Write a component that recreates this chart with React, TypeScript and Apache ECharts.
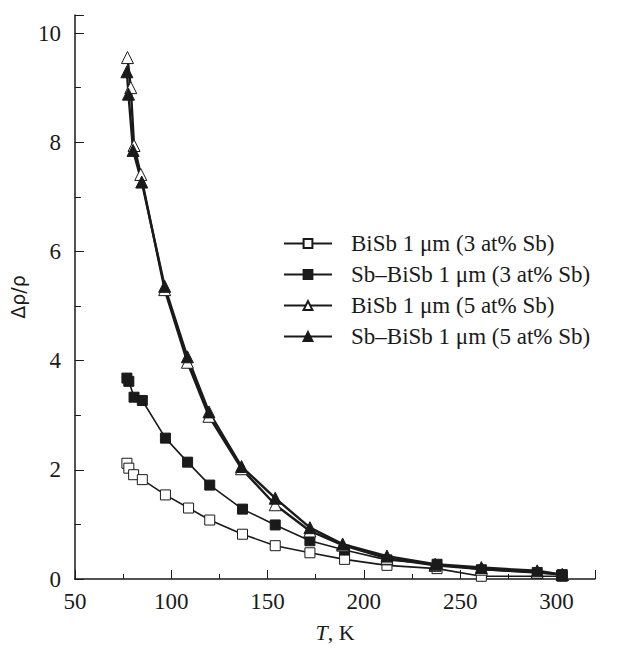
import React, { useEffect, useRef } from "react";
import * as echarts from "echarts";

const seriesNames = [
  "BiSb 1 μm (3 at% Sb)",
  "Sb–BiSb 1 μm (3 at% Sb)",
  "BiSb 1 μm (5 at% Sb)",
  "Sb–BiSb 1 μm (5 at% Sb)",
];

const bisb3T = [77, 78, 80.5, 85, 97, 109, 120, 137, 154, 172, 190, 212, 238, 261, 303];
const bisb3V = [2.12, 2.03, 1.91, 1.82, 1.54, 1.3, 1.08, 0.82, 0.61, 0.48, 0.36, 0.25, 0.19, 0.05, 0.05];

const sbBisb3T = [77, 78, 80.7, 85, 97, 108.5, 120, 137, 154, 172, 190, 212, 238, 261, 290, 303];
const sbBisb3V = [3.68, 3.62, 3.33, 3.27, 2.58, 2.14, 1.72, 1.28, 0.99, 0.7, 0.53, 0.35, 0.27, 0.17, 0.12, 0.08];

const bisb5T = [77.3, 79, 80.7, 84.2, 96.6, 108.4, 119.6, 136.5, 154, 172, 189, 212, 237, 261, 290, 303];
const bisb5V = [9.55, 9.0, 7.94, 7.41, 5.3, 3.97, 2.98, 2.02, 1.36, 0.88, 0.62, 0.38, 0.25, 0.18, 0.12, 0.08];

const sbBisb5T = [77, 77.8, 80.2, 84.7, 96.6, 108.4, 119.6, 136.5, 154, 172, 189, 212, 237, 261, 290, 303];
const sbBisb5V = [9.29, 8.88, 7.85, 7.27, 5.36, 4.07, 3.06, 2.06, 1.48, 0.94, 0.64, 0.42, 0.27, 0.21, 0.15, 0.08];

const xMin = 50;
const xMax = 320;
const yMin = 0;
const yMax = 10.33;

const SERIF = "'Liberation Serif', 'Times New Roman', serif";
const INK = "#1a1a1a";

const zip = (xs: number[], ys: number[]) => xs.map((x, i) => [x, ys[i]]);

export default function App() {
  const ref = useRef<HTMLDivElement>(null);
  useEffect(() => {
    document.body.style.margin = "0";
    if (!ref.current) return;
    const chart = echarts.init(ref.current, undefined, { renderer: "svg" });
    const mk = (
      name: string,
      data: number[][],
      symbol: string,
      filled: boolean,
      size: number,
      lw: number
    ) => ({
      name,
      type: "line",
      data,
      symbol,
      symbolSize: size,
      showAllSymbol: true,
      smooth: false,
      lineStyle: { color: INK, width: lw },
      itemStyle: {
        color: filled ? INK : "#fff",
        borderColor: INK,
        borderWidth: 1,
      },
      emphasis: { disabled: true },
    });
    chart.setOption({
      animation: false,
      grid: { left: 74, right: 34, top: 15, bottom: 65, containLabel: false },
      legend: {
        left: 278,
        top: 227,
        orient: "vertical",
        itemWidth: 48,
        itemHeight: 11,
        itemGap: 8,
        textStyle: {
          fontFamily: SERIF,
          fontSize: 23,
          color: INK,
          padding: [0, 0, 0, 14],
        },
        data: seriesNames,
      },
      xAxis: {
        type: "value",
        min: xMin,
        max: xMax,
        interval: 50,
        name: "{i|T}, K",
        nameLocation: "middle",
        nameGap: 42,
        nameTextStyle: {
          fontFamily: SERIF,
          fontSize: 22,
          color: INK,
          rich: { i: { fontFamily: SERIF, fontSize: 22, fontStyle: "italic", color: INK } },
        },
        axisLine: { onZero: false, lineStyle: { color: INK, width: 1.5 } },
        axisTick: { inside: true, length: 9, lineStyle: { color: INK, width: 1 } },
        minorTick: { show: true, splitNumber: 2, length: 5, lineStyle: { color: INK, width: 1 } },
        axisLabel: {
          fontFamily: SERIF,
          fontSize: 23,
          color: INK,
          margin: 11,
          showMaxLabel: false,
        },
        splitLine: { show: false },
        minorSplitLine: { show: false },
      },
      yAxis: {
        type: "value",
        min: yMin,
        max: yMax,
        interval: 2,
        name: "Δρ/ρ",
        nameLocation: "middle",
        nameGap: 40,
        nameTextStyle: { fontFamily: "'DejaVu Sans', sans-serif", fontSize: 19, color: INK },
        axisLine: { onZero: false, lineStyle: { color: INK, width: 1.5 } },
        axisTick: { inside: true, length: 9, lineStyle: { color: INK, width: 1 } },
        minorTick: { show: true, splitNumber: 2, length: 6, lineStyle: { color: INK, width: 1 } },
        axisLabel: {
          fontFamily: SERIF,
          fontSize: 23,
          color: INK,
          margin: 14,
          showMaxLabel: false,
        },
        splitLine: { show: false },
        minorSplitLine: { show: false },
      },
      series: [
        mk(seriesNames[0], zip(bisb3T, bisb3V), "rect", false, 10, 1.6),
        mk(seriesNames[1], zip(sbBisb3T, sbBisb3V), "rect", true, 10, 1.6),
        mk(seriesNames[2], zip(bisb5T, bisb5V), "triangle", false, 12, 2.4),
        mk(seriesNames[3], zip(sbBisb5T, sbBisb5V), "triangle", true, 12, 2.4),
      ],
    });
    return () => chart.dispose();
  }, []);
  return <div ref={ref} style={{ width: 629, height: 648 }} />;
}
